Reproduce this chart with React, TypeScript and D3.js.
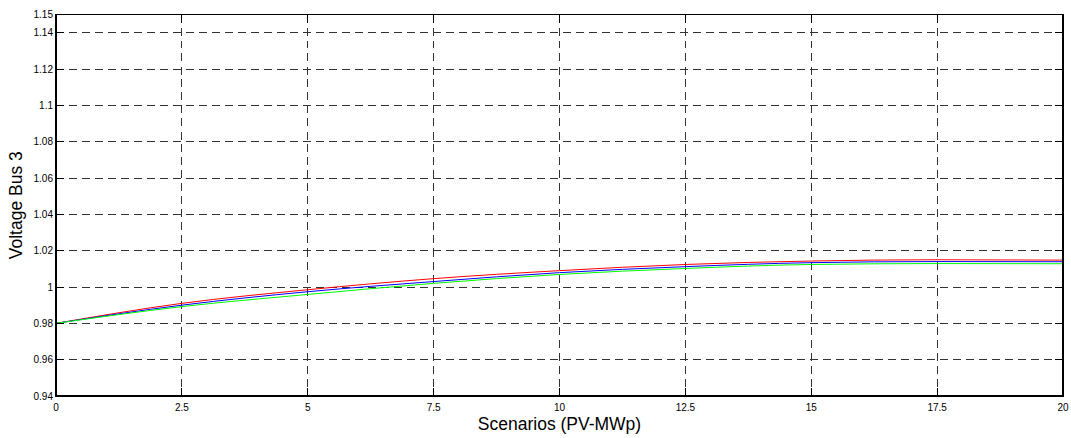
import React from "react";
import * as d3 from "d3";

const scenarios = [0, 2.5, 5, 7.5, 10, 12.5, 15, 17.5, 20];
const redSeries = [0.98, 0.991, 0.9985, 1.0046, 1.009, 1.0124, 1.0143, 1.015, 1.0148];
const blueSeries = [0.98, 0.99, 0.9974, 1.003, 1.0079, 1.0112, 1.0134, 1.014, 1.0139];
const greenSeries = [0.98, 0.9892, 0.9959, 1.002, 1.0069, 1.0102, 1.0124, 1.0129, 1.0128];
const xTicks = [0, 2.5, 5, 7.5, 10, 12.5, 15, 17.5, 20];
const yTicks = [0.94, 0.96, 0.98, 1, 1.02, 1.04, 1.06, 1.08, 1.1, 1.12, 1.14, 1.15];
const seriesList = [
  { name: "red", color: "#ff0000", values: redSeries },
  { name: "blue", color: "#0000ff", values: blueSeries },
  { name: "green", color: "#00ff00", values: greenSeries },
];

const W = 1071;
const H = 438;
const left = 56;
const right = 1063;
const top = 14.5;
const bottom = 396;

export default function App() {
  const x = d3.scaleLinear().domain([0, 20]).range([left, right]);
  const y = d3.scaleLinear().domain([0.94, 1.15]).range([bottom, top]);
  const line = d3
    .line<number>()
    .x((_, i) => x(scenarios[i]))
    .y((d) => y(d))
    .curve(d3.curveMonotoneX);
  const font = "Liberation Sans, Arial, sans-serif";
  return (
    <svg
      width={W}
      height={H}
      style={{ position: "absolute", left: 0, top: 0, background: "#fff" }}
    >
      <rect x={0} y={0} width={W} height={H} fill="#fff" />
      {xTicks.slice(1, -1).map((t) => (
        <line
          key={"gx" + t}
          x1={x(t)}
          x2={x(t)}
          y1={top}
          y2={bottom}
          stroke="#333"
          strokeWidth={1}
          strokeDasharray="8,5"
          shapeRendering="crispEdges"
        />
      ))}
      {yTicks.slice(1).map((t) => (
        <line
          key={"gy" + t}
          x1={left}
          x2={right}
          y1={y(t)}
          y2={y(t)}
          stroke="#333"
          strokeWidth={1}
          strokeDasharray="8,5"
          shapeRendering="crispEdges"
        />
      ))}
      {seriesList.map((s) => (
        <path
          key={s.name}
          d={line(s.values) || ""}
          fill="none"
          stroke={s.color}
          strokeWidth={1}
        />
      ))}
      <rect
        x={left}
        y={top}
        width={right - left}
        height={bottom - top}
        fill="none"
        stroke="#000"
        strokeWidth={1.2}
        shapeRendering="crispEdges"
      />
      {xTicks.map((t) => (
        <g key={"tx" + t}>
          <line x1={x(t)} x2={x(t)} y1={bottom} y2={bottom - 8} stroke="#000" shapeRendering="crispEdges" />
          <line x1={x(t)} x2={x(t)} y1={top} y2={top + 8} stroke="#000" shapeRendering="crispEdges" />
          <text
            x={x(t)}
            y={bottom + 15}
            textAnchor="middle"
            fontFamily={font}
            fontSize={10}
            fill="#000"
          >
            {String(t)}
          </text>
        </g>
      ))}
      {yTicks.map((t) => (
        <g key={"ty" + t}>
          <line x1={left} x2={left + 8} y1={y(t)} y2={y(t)} stroke="#000" shapeRendering="crispEdges" />
          <line x1={right} x2={right - 8} y1={y(t)} y2={y(t)} stroke="#000" shapeRendering="crispEdges" />
          <text
            x={left - 3}
            y={y(t)}
            dy="0.35em"
            textAnchor="end"
            fontFamily={font}
            fontSize={10}
            fill="#000"
          >
            {String(t)}
          </text>
        </g>
      ))}
      <text
        x={(left + right) / 2}
        y={430}
        textAnchor="middle"
        fontFamily={font}
        fontSize={17.5}
        fill="#000"
      >
        Scenarios (PV-MWp)
      </text>
      <text
        transform={`translate(22, ${(top + bottom) / 2}) rotate(-90)`}
        textAnchor="middle"
        fontFamily={font}
        fontSize={17.5}
        fill="#000"
      >
        Voltage Bus 3
      </text>
    </svg>
  );
}
